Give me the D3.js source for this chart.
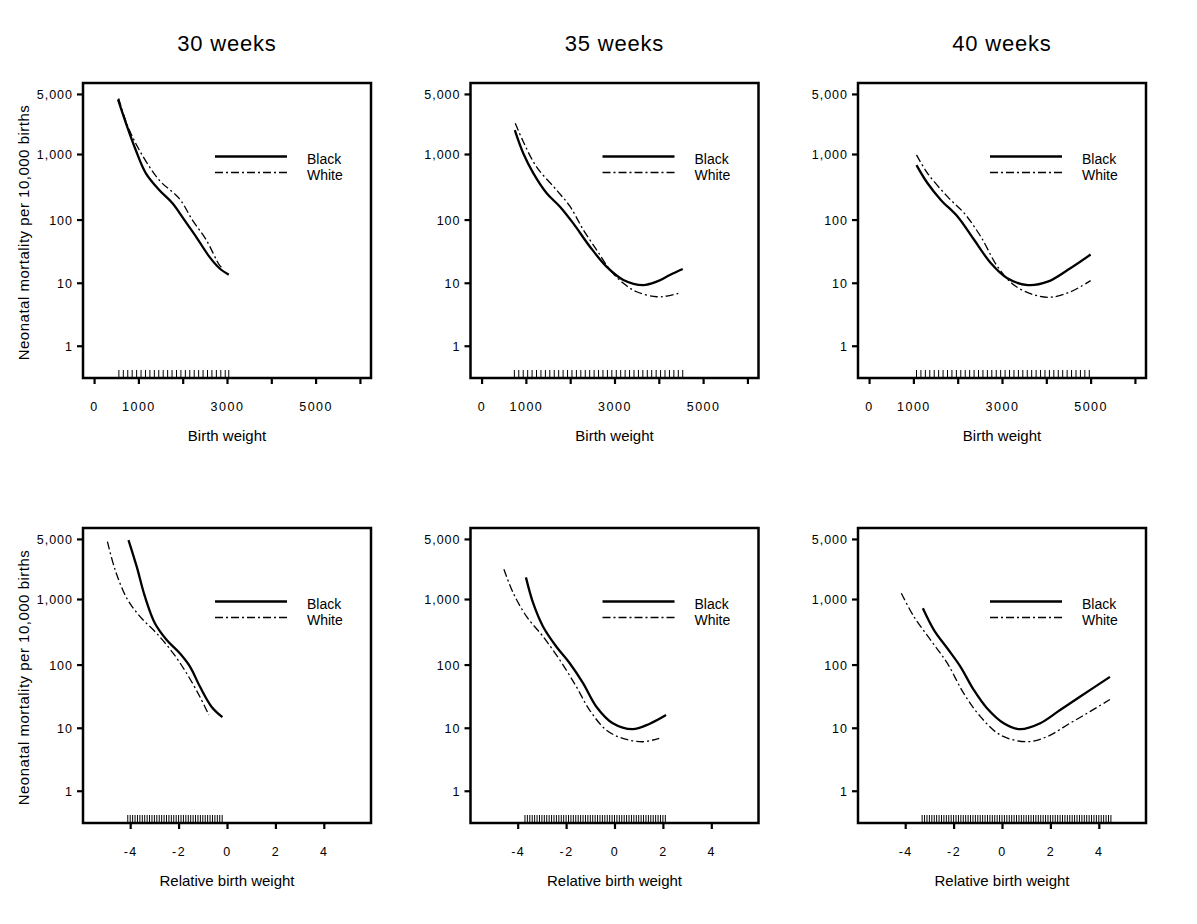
<!DOCTYPE html>
<html><head><meta charset="utf-8">
<script src="https://cdn.jsdelivr.net/npm/d3@7"></script>
<style>
body{margin:0;background:#fff}
svg{display:block}
text{font-family:"Liberation Sans",Arial,Helvetica,sans-serif;fill:#000}
</style>
</head><body>
<svg id="chart" width="1197" height="924"></svg>
<script>
// ---------- data ----------
const weekTitles = ["30 weeks", "35 weeks", "40 weeks"];
const seriesNames = ["Black", "White"];
const yTickValues = [1, 10, 100, 1000, 5000];
const yTickLabels = ["1", "10", "100", "1,000", "5,000"];
const bwTickValues = [0, 1000, 2000, 3000, 4000, 5000, 6000];
const bwTickLabels = ["0", "1000", "", "3000", "", "5000", ""];
const relTickValues = [-4, -2, 0, 2, 4];
const relTickLabels = ["-4", "-2", "0", "2", "4"];
const yTitle = "Neonatal mortality per 10,000 births";
const xTitles = ["Birth weight", "Relative birth weight"];

// Birth weight panels (x in grams, y = deaths per 10,000 births)
const bw30BlackX = [540, 720, 940, 1170, 1470, 1770, 2040, 2300, 2600, 2830, 3040];
const bw30BlackY = [4500, 2550, 1140, 520, 290, 180, 98, 54, 26, 17, 13.4];
const bw30WhiteX = [555, 750, 1020, 1470, 1920, 2220, 2530, 2830, 2900];
const bw30WhiteY = [4600, 2430, 1140, 410, 215, 98, 48, 19, 17];

const bw35BlackX = [750, 940, 1170, 1470, 1770, 2070, 2450, 2820, 3200, 3650, 3950, 4250, 4540];
const bw35BlackY = [2100, 1025, 520, 258, 159, 87, 37, 18, 11.1, 9.2, 10.4, 13.3, 16.5];
const bw35WhiteX = [760, 940, 1240, 1690, 2000, 2300, 2600, 2900, 3200, 3500, 3950, 4210, 4440];
const bw35WhiteY = [2550, 1490, 650, 290, 159, 68, 33, 16, 9.8, 7.2, 6.0, 6.2, 6.8];

const bw40BlackX = [1070, 1320, 1620, 2000, 2370, 2750, 3120, 3580, 4030, 4480, 5000];
const bw40BlackY = [690, 367, 203, 111, 48, 20.4, 11.8, 9.2, 10.4, 15.9, 28];
const bw40WhiteX = [1070, 1320, 1770, 2150, 2520, 2900, 3270, 3730, 4100, 4550, 5000];
const bw40WhiteY = [970, 520, 228, 125, 54, 18, 9.2, 6.4, 5.9, 7.2, 10.8];

// Relative birth weight panels
const rel30BlackX = [-4.07, -3.73, -3.39, -2.98, -2.49, -1.95, -1.53, -1.12, -0.64, -0.19];
const rel30BlackY = [4900, 2660, 1080, 438, 242, 150, 93, 45, 21.6, 14.7];
const rel30WhiteX = [-4.94, -4.62, -4.14, -3.59, -2.91, -2.22, -1.67, -1.12, -0.75];
const rel30WhiteY = [4750, 2430, 1025, 551, 308, 150, 73, 31, 15.9];

const rel35BlackX = [-3.66, -3.36, -2.95, -2.40, -1.85, -1.30, -0.75, -0.07, 0.75, 1.44, 2.13];
const rel35BlackY = [1970, 870, 388, 190, 105, 51, 21.6, 11.8, 9.5, 11.5, 15.9];
const rel35WhiteX = [-4.57, -4.18, -3.63, -2.95, -2.26, -1.58, -1.03, -0.34, 0.34, 1.16, 1.85];
const rel35WhiteY = [2480, 1205, 551, 273, 118, 45, 19.1, 9.2, 6.8, 6.0, 6.8];

const rel40BlackX = [-3.27, -2.81, -2.26, -1.72, -1.17, -0.62, 0.07, 0.75, 1.58, 2.40, 3.22, 4.46];
const rel40BlackY = [735, 345, 180, 93, 40, 20.4, 11.8, 9.5, 11.8, 19.1, 31, 64];
const rel40WhiteX = [-4.16, -3.64, -2.95, -2.26, -1.58, -0.89, -0.07, 1.03, 1.85, 2.81, 3.63, 4.46];
const rel40WhiteY = [1205, 551, 242, 105, 35, 15, 7.7, 6.0, 7.2, 11.8, 18, 28];

// Rug (observed data positions)
const rug30bw = [560,660,760,860,960,1060,1160,1260,1360,1460,1560,1660,1760,1860,1960,2060,2160,2260,2360,2460,2560,2660,2760,2860,2960,3040];
const rug35bw = [740,840,940,1040,1140,1240,1340,1440,1540,1640,1740,1840,1940,2040,2140,2240,2340,2440,2540,2640,2740,2840,2940,3040,3140,3240,3340,3440,3540,3640,3740,3840,3940,4040,4140,4240,4340,4440,4540];
const rug40bw = [1070,1170,1270,1370,1470,1570,1670,1770,1870,1970,2070,2170,2270,2370,2470,2570,2670,2770,2870,2970,3070,3170,3270,3370,3470,3570,3670,3770,3870,3970,4070,4170,4270,4370,4470,4570,4670,4770,4870,4970];
const rug30rel = [-4.1,-4.0,-3.9,-3.8,-3.7,-3.6,-3.5,-3.4,-3.3,-3.2,-3.1,-3.0,-2.9,-2.8,-2.7,-2.6,-2.5,-2.4,-2.3,-2.2,-2.1,-2.0,-1.9,-1.8,-1.7,-1.6,-1.5,-1.4,-1.3,-1.2,-1.1,-1.0,-0.9,-0.8,-0.7,-0.6,-0.5,-0.4,-0.3,-0.2];
const rug35rel = [-3.7,-3.6,-3.5,-3.4,-3.3,-3.2,-3.1,-3.0,-2.9,-2.8,-2.7,-2.6,-2.5,-2.4,-2.3,-2.2,-2.1,-2.0,-1.9,-1.8,-1.7,-1.6,-1.5,-1.4,-1.3,-1.2,-1.1,-1.0,-0.9,-0.8,-0.7,-0.6,-0.5,-0.4,-0.3,-0.2,-0.1,0,0.1,0.2,0.3,0.4,0.5,0.6,0.7,0.8,0.9,1.0,1.1,1.2,1.3,1.4,1.5,1.6,1.7,1.8,1.9,2.0,2.1];
const rug40rel = [-3.3,-3.2,-3.1,-3.0,-2.9,-2.8,-2.7,-2.6,-2.5,-2.4,-2.3,-2.2,-2.1,-2.0,-1.9,-1.8,-1.7,-1.6,-1.5,-1.4,-1.3,-1.2,-1.1,-1.0,-0.9,-0.8,-0.7,-0.6,-0.5,-0.4,-0.3,-0.2,-0.1,0,0.1,0.2,0.3,0.4,0.5,0.6,0.7,0.8,0.9,1.0,1.1,1.2,1.3,1.4,1.5,1.6,1.7,1.8,1.9,2.0,2.1,2.2,2.3,2.4,2.5,2.6,2.7,2.8,2.9,3.0,3.1,3.2,3.3,3.4,3.5,3.6,3.7,3.8,3.9,4.0,4.1,4.2,4.3,4.4,4.5];

// ---------- build panel table ----------
const zip = (xs, ys) => xs.map((x, i) => ({x, y: ys[i]}));
const panels = [
  {row:0,col:0,black:zip(bw30BlackX,bw30BlackY),white:zip(bw30WhiteX,bw30WhiteY),rug:rug30bw},
  {row:0,col:1,black:zip(bw35BlackX,bw35BlackY),white:zip(bw35WhiteX,bw35WhiteY),rug:rug35bw},
  {row:0,col:2,black:zip(bw40BlackX,bw40BlackY),white:zip(bw40WhiteX,bw40WhiteY),rug:rug40bw},
  {row:1,col:0,black:zip(rel30BlackX,rel30BlackY),white:zip(rel30WhiteX,rel30WhiteY),rug:rug30rel},
  {row:1,col:1,black:zip(rel35BlackX,rel35BlackY),white:zip(rel35WhiteX,rel35WhiteY),rug:rug35rel},
  {row:1,col:2,black:zip(rel40BlackX,rel40BlackY),white:zip(rel40WhiteX,rel40WhiteY),rug:rug40rel}
];

// ---------- layout ----------
const lefts = [83, 470.5, 858];
const tops = [83, 528];
const pw = 288, ph = 295;
const logit = v => { const p = v / 10000; return Math.log(p / (1 - p)); };
const FF = '"Liberation Sans",Arial,sans-serif';

const svg = d3.select("#chart");

panels.forEach(P => {
  const g = svg.append("g").attr("transform", `translate(${lefts[P.col]},${tops[P.row]})`);
  const x = d3.scaleLinear()
    .domain(P.row === 0 ? [-250, 6250] : [-5.95, 5.95])
    .range([0, pw]);
  const yL = d3.scaleLinear().domain([-10.39, 0.40]).range([ph, 0]);
  const y = v => yL(logit(v));

  // y axis
  const ya = g.append("g").call(
    d3.axisLeft(yL).tickValues(yTickValues.map(logit))
      .tickFormat((d, i) => yTickLabels[i]).tickSize(6).tickPadding(4));
  ya.select(".domain").remove();
  ya.selectAll(".tick line").attr("stroke", "#000").attr("stroke-width", 2.2);
  ya.selectAll(".tick text").attr("font-size", 12.5).attr("letter-spacing", "1px")
    .attr("font-family", FF).attr("fill", "#000").attr("dy", "0.36em");

  // x axis
  const tv = P.row === 0 ? bwTickValues : relTickValues;
  const tl = P.row === 0 ? bwTickLabels : relTickLabels;
  const xa = g.append("g").attr("transform", `translate(0,${ph})`).call(
    d3.axisBottom(x).tickValues(tv).tickFormat((d, i) => tl[i]).tickSize(6));
  xa.select(".domain").remove();
  xa.selectAll(".tick line").attr("stroke", "#000").attr("stroke-width", 2.2);
  xa.selectAll(".tick text").attr("font-size", 12.5).attr("letter-spacing", "1.5px")
    .attr("font-family", FF).attr("fill", "#000")
    .attr("y", 33).attr("dy", 0);

  // rug
  g.append("g").selectAll("line").data(P.rug).join("line")
    .attr("x1", d => x(d)).attr("x2", d => x(d))
    .attr("y1", ph).attr("y2", ph - 8)
    .attr("stroke", "#000").attr("stroke-width", 1);

  // curves
  const line = d3.line().x(d => x(d.x)).y(d => y(d.y)).curve(d3.curveCatmullRom.alpha(0.5));
  g.append("path").datum(P.white).attr("d", line)
    .attr("fill", "none").attr("stroke", "#000").attr("stroke-width", 1.3)
    .attr("stroke-dasharray", "8,3,2,3");
  g.append("path").datum(P.black).attr("d", line)
    .attr("fill", "none").attr("stroke", "#000").attr("stroke-width", 2.3);

  // frame
  g.append("rect").attr("x", 0).attr("y", 0).attr("width", pw).attr("height", ph)
    .attr("fill", "none").attr("stroke", "#000").attr("stroke-width", 2.5);

  // legend
  const ly = [73.5, 89.5];
  seriesNames.forEach((name, i) => {
    g.append("line").attr("x1", 132).attr("x2", 204).attr("y1", ly[i]).attr("y2", ly[i])
      .attr("stroke", "#000").attr("stroke-width", i === 0 ? 2.3 : 1.5)
      .attr("stroke-dasharray", i === 0 ? null : "8,3,2,3");
    g.append("text").attr("x", 224).attr("y", ly[i] + 7.5).attr("font-size", 14).text(name);
  });

  // x axis title
  g.append("text").attr("x", pw / 2).attr("y", ph + 63).attr("text-anchor", "middle")
    .attr("font-size", 15).text(xTitles[P.row]);

  // y axis title
  if (P.col === 0) {
    g.append("text").attr("transform", `translate(-54,${ph / 2 + 2}) rotate(-90)`)
      .attr("text-anchor", "middle").attr("font-size", 15).attr("letter-spacing", "0.5px").text(yTitle);
  }

  // column title
  if (P.row === 0) {
    g.append("text").attr("x", pw / 2).attr("y", -32).attr("text-anchor", "middle")
      .attr("font-size", 22).attr("letter-spacing", "0.8px").text(weekTitles[P.col]);
  }
});
</script>
</body></html>
